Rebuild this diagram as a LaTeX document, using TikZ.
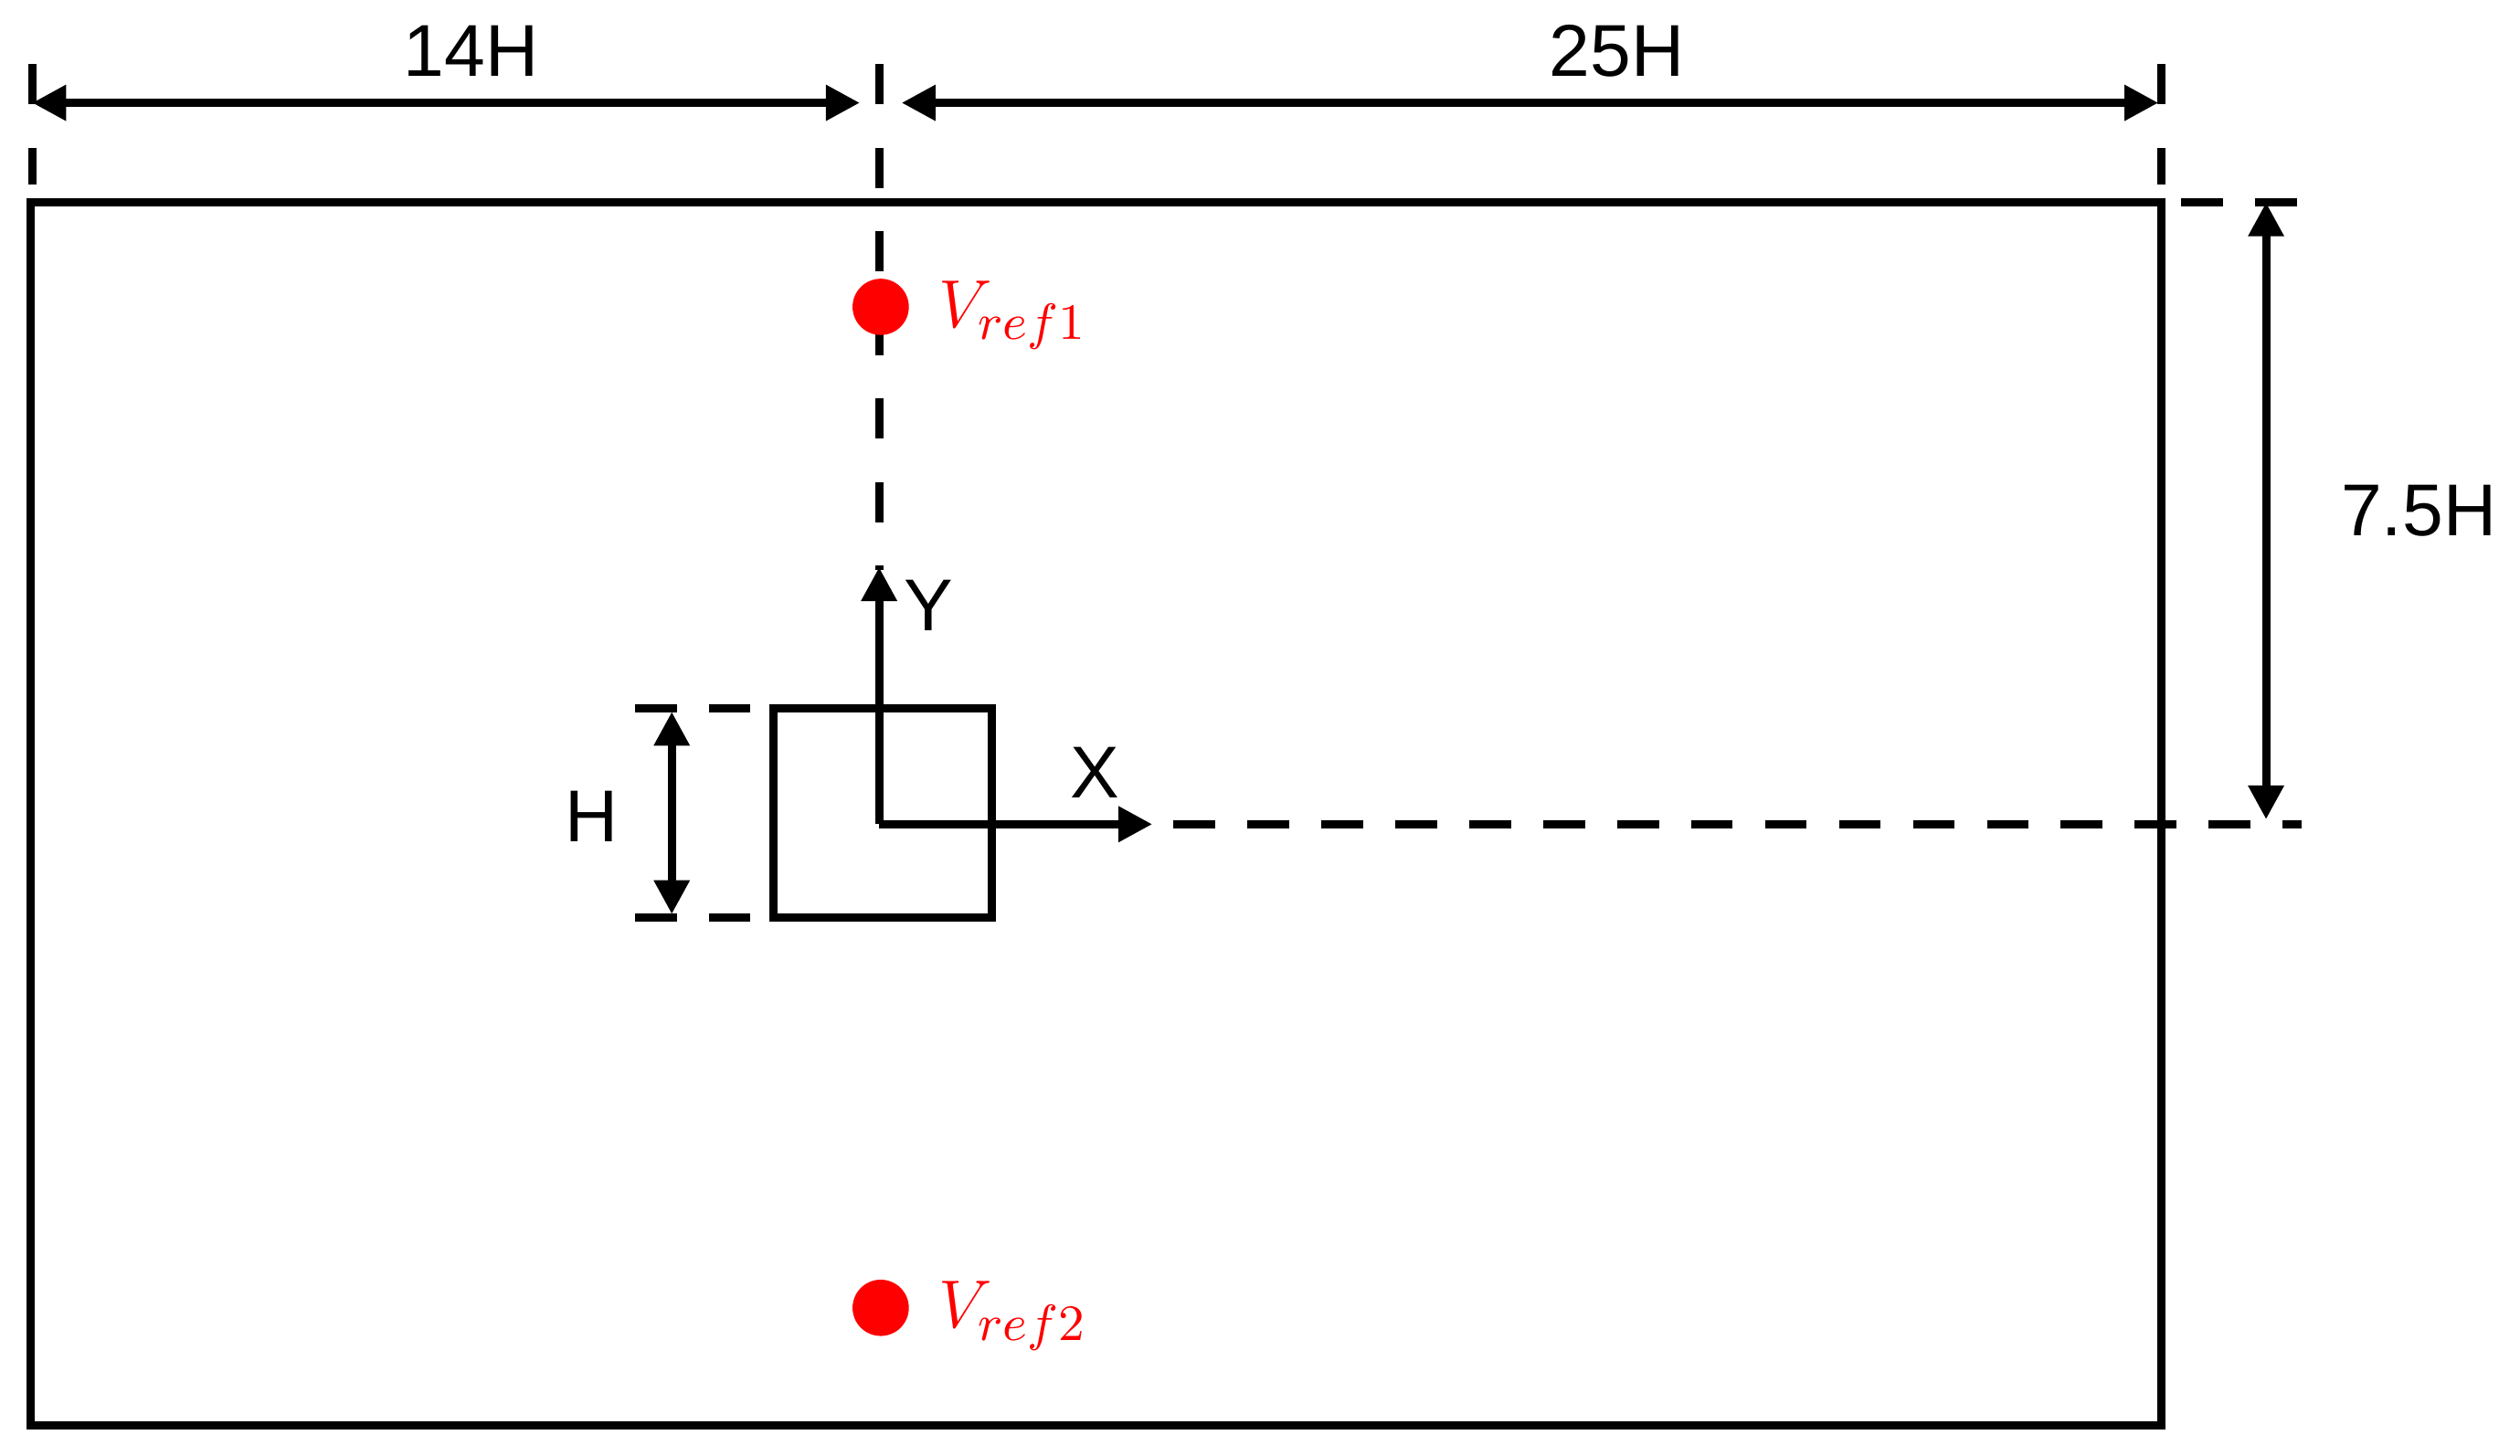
\documentclass[tikz,border=0pt]{standalone}
\usepackage{fontspec}
\setmainfont{Liberation Sans}
\usetikzlibrary{arrows.meta}
\begin{document}
\begin{tikzpicture}[x=0.01cm,y=-0.01cm,
  ln/.style={line width=1.45pt},
  dsh/.style={line width=1.45pt,dash pattern=on 0.26cm off 0.2cm},
  dim/.style={line width=1.45pt,{Triangle[length=6pt,width=6pt]}-{Triangle[length=6pt,width=6pt]}},
  arr/.style={line width=1.45pt,-{Triangle[length=6pt,width=6pt]}},
  lab/.style={font=\fontsize{13}{15}\selectfont},
  rlab/.style={font=\fontsize{13}{15}\selectfont,text=red,anchor=west}]
\useasboundingbox (0,0) rectangle (1568,906);
\draw[ln] (19,126) rectangle (1345,887);
% top ticks
\coordinate (tl1) at (20,40); \coordinate (tl2) at (20,115);
\coordinate (tr1) at (1345,40); \coordinate (tr2) at (1345,115);
\coordinate (tm1) at (547,40); \coordinate (tm2) at (547,355);
\draw[ln,dash pattern=on 0.25cm off 0.27cm] (tl1) -- (tl2);
\draw[ln,dash pattern=on 0.25cm off 0.27cm] (tr1) -- (tr2);
\draw[dsh,dash pattern=on 0.25cm off 0.27cm] (tm1) -- (tm2);
\coordinate (a1) at (20,64); \coordinate (a2) at (535,64);
\coordinate (a3) at (561,64); \coordinate (a4) at (1343,64);
\draw[dim] (a1) -- (a2);
\draw[dim] (a3) -- (a4);
\node[lab] (l14) at (293,32) {14H};
\node[lab] (l25) at (1006,32) {25H};
% refs
\node[circle,fill=red,minimum size=0.35cm,inner sep=0] (r1) at (548,191) {};
\node[circle,fill=red,minimum size=0.35cm,inner sep=0] (r2) at (548,814) {};
\node[rlab] (v1) at (572,196) {$V_{ref1}$};
\node[rlab] (v2) at (572,819) {$V_{ref2}$};
% square and axes
\draw[ln] (481,441) rectangle (617,571);
\coordinate (o) at (547,513);
\coordinate (ye) at (547,353);
\coordinate (xe) at (717,513);
\draw[arr] (o) -- (ye);
\draw[arr] (o) -- (xe);
\node[lab] (ly) at (578,377) {Y};
\node[lab] (lx) at (681,481) {X};
% right dims
\coordinate (h1) at (730,513); \coordinate (h2) at (1432,513);
\draw[dsh] (h1) -- (h2);
\coordinate (t1) at (1357,126); \coordinate (t2) at (1432,126);
\draw[dsh] (t1) -- (t2);
\coordinate (v1a) at (1410,126); \coordinate (v1b) at (1410,510);
\draw[dim] (v1a) -- (v1b);
\node[lab] (l75) at (1505,318) {7.5H};
% H dims
\coordinate (s1) at (395,441); \coordinate (s2) at (470,441);
\coordinate (s3) at (395,571); \coordinate (s4) at (470,571);
\draw[dsh] (s1) -- (s2);
\draw[dsh] (s3) -- (s4);
\coordinate (d1) at (418,443); \coordinate (d2) at (418,569);
\draw[dim] (d1) -- (d2);
\node[lab] (lh) at (368,508) {H};
\end{tikzpicture}
\end{document}
